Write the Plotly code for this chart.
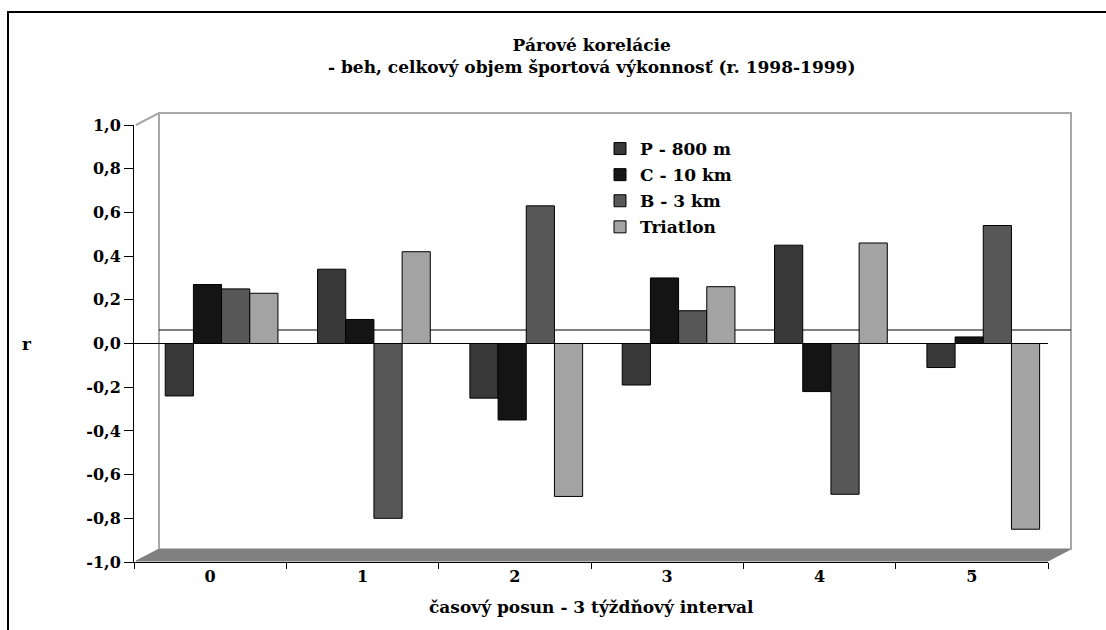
import plotly.graph_objects as go

categories = ["0", "1", "2", "3", "4", "5"]
series_names = ["P - 800 m", "C - 10 km", "B - 3 km", "Triatlon"]
p_800m = [-0.24, 0.34, -0.25, -0.19, 0.45, -0.11]
c_10km = [0.27, 0.11, -0.35, 0.30, -0.22, 0.03]
b_3km = [0.25, -0.80, 0.63, 0.15, -0.69, 0.54]
triatlon = [0.23, 0.42, -0.70, 0.26, 0.46, -0.85]
y_tick_vals = [1.0, 0.8, 0.6, 0.4, 0.2, 0.0, -0.2, -0.4, -0.6, -0.8, -1.0]
y_tick_text = ["1,0", "0,8", "0,6", "0,4", "0,2", "0,0", "-0,2", "-0,4", "-0,6", "-0,8", "-1,0"]
title_lines = ["Párové korelácie", "- beh, celkový objem športová výkonnosť (r. 1998-1999)"]
x_title = "časový posun - 3 týždňový interval"
y_title = "r"

W, H = 1106, 630
L, R, T, B = 134, 1048, 125, 562  # plot area pixel bounds


def px(x):
    return (x - L) / (R - L)


def py(y):
    return (B - y) / (B - T)


FONT = "'DejaVu Serif', 'Liberation Serif', serif"
colors = ["#383838", "#141414", "#575757", "#a3a3a3"]
offsets = [-0.295, -0.11, 0.075, 0.26]
series = [p_800m, c_10km, b_3km, triatlon]

fig = go.Figure()
for i, (name, vals) in enumerate(zip(series_names, series)):
    fig.add_trace(go.Bar(
        x=categories, y=vals, name=name,
        width=0.185, offset=offsets[i],
        marker=dict(color=colors[i], line=dict(color="black", width=1)),
        legendgroup=f"g{i}",
    ))

shapes = []
# outer frame
shapes.append(dict(type="rect", xref="paper", yref="paper",
                   x0=px(8), x1=px(1120), y0=py(12), y1=py(650),
                   line=dict(color="black", width=2), fillcolor="rgba(0,0,0,0)", layer="below"))
# floor slab
shapes.append(dict(type="path", xref="paper", yref="paper",
                   path=f"M {px(136)} {py(561)} L {px(159)} {py(549)} L {px(1071)} {py(549)} L {px(1048)} {py(561)} Z",
                   fillcolor="#808080", line=dict(color="#808080", width=1), layer="below"))
# back walls
wall = dict(color="#a8a8a8", width=2)
shapes.append(dict(type="path", xref="paper", yref="paper",
                   path=f"M {px(136)} {py(125)} L {px(159)} {py(113)} L {px(1071)} {py(113)} L {px(1071)} {py(550)}",
                   line=wall, layer="below"))
shapes.append(dict(type="line", xref="paper", yref="paper",
                   x0=px(159), x1=px(159), y0=py(113), y1=py(549), line=wall, layer="below"))
# back zero line
shapes.append(dict(type="line", xref="paper", yref="paper",
                   x0=px(159), x1=px(1071), y0=py(330), y1=py(330),
                   line=dict(color="black", width=1), layer="below"))

big = dict(family=FONT, size=17, color="black", weight="bold")
tick = dict(family=FONT, size=16, color="black", weight="bold")

annotations = [
    dict(text="<br>".join(title_lines), xref="paper", yref="paper", x=0.5, y=py(33),
         xanchor="center", yanchor="top", showarrow=False, font=big),
    dict(text=x_title, xref="paper", yref="paper", x=0.5, y=py(607),
         xanchor="center", yanchor="middle", showarrow=False, font=big),
    dict(text=y_title, xref="paper", yref="y", x=px(27), y=0,
         xanchor="center", yanchor="middle", showarrow=False, font=big),
]

fig.update_layout(
    width=W, height=H,
    margin=dict(l=L, r=W - R, t=T, b=H - B, autoexpand=False),
    paper_bgcolor="white", plot_bgcolor="rgba(0,0,0,0)",
    barmode="overlay",
    showlegend=True,
    legend=dict(x=px(600), y=py(131), xanchor="left", yanchor="top",
                font=big, bgcolor="rgba(0,0,0,0)", tracegroupgap=1,
                itemwidth=30),
    xaxis=dict(type="category", categoryorder="array", categoryarray=categories,
               range=[-0.5, 5.5], tickson="boundaries", ticks="outside", ticklen=6,
               tickcolor="black", showline=True, linecolor="black", linewidth=1,
               showgrid=False, zeroline=False, tickfont=tick, fixedrange=True),
    xaxis2=dict(type="category", overlaying="x", matches="x", anchor="free",
                position=py(343), tickson="boundaries", ticks="outside", ticklen=4,
                tickcolor="black", showticklabels=False, showline=False,
                showgrid=False, zeroline=False, categoryarray=categories,
                categoryorder="array"),
    yaxis=dict(range=[-1, 1], tickvals=y_tick_vals, ticktext=y_tick_text,
               ticks="outside", ticklen=9, tickcolor="black", showline=True,
               linecolor="black", linewidth=1, showgrid=False,
               zeroline=True, zerolinecolor="black", zerolinewidth=1,
               tickfont=tick, fixedrange=True),
    shapes=shapes,
    annotations=annotations,
)

fig.write_html("out.html")
